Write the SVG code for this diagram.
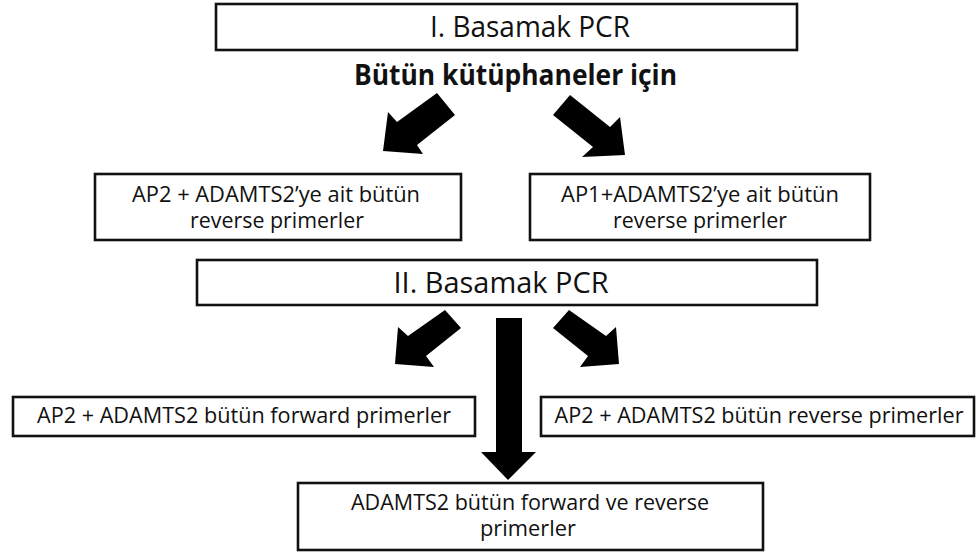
<svg xmlns="http://www.w3.org/2000/svg" width="978" height="554" viewBox="0 0 978 554">
  <style>
    .box { fill: #ffffff; stroke: #111111; stroke-width: 2.6; }
    .arrow { fill: #000000; stroke: none; }
    .t { font-family: "Open Sans", "Noto Sans", "DejaVu Sans", sans-serif; fill: #111111; }
    .title { font-size: 29px; }
    .sub { font-size: 29px; font-weight: bold; }
    .body { font-size: 22px; }
  </style>
  <rect width="978" height="554" fill="#ffffff"/>

  <!-- connectors: block arrows -->
  <g id="connectors">
    <polygon class="arrow" points="437,93 455,115 417,145 423,154 383,151 388,112 397,122"/>
    <polygon class="arrow" points="570,95 610,127 620,117 625,155 582,157 593,147 553,115"/>
    <polygon class="arrow" points="445,310 461,328 426,356 434,367 395,364 398,327 408,336"/>
    <polygon class="arrow" points="569,310 553,328 588,356 580,367 619,364 616,327 606,336"/>
    <polygon class="arrow" points="496,318 522,318 522,452 536,452 508,480 481,452 496,452"/>
  </g>

  <g id="step1">
    <rect class="box" x="216" y="4" width="581" height="46"/>
    <text class="t title" x="430" y="37" textLength="200" lengthAdjust="spacingAndGlyphs">I. Basamak PCR</text>
  </g>

  <g id="all-libraries">
    <text class="t sub" x="354" y="85" textLength="323" lengthAdjust="spacingAndGlyphs">Bütün kütüphaneler için</text>
  </g>

  <g id="ap2-reverse">
    <rect class="box" x="95" y="174" width="366" height="66"/>
    <text class="t body" x="276" y="202" text-anchor="middle" textLength="288" lengthAdjust="spacingAndGlyphs">AP2 + ADAMTS2’ye ait bütün</text>
    <text class="t body" x="277" y="228" text-anchor="middle" textLength="174" lengthAdjust="spacingAndGlyphs">reverse primerler</text>
  </g>

  <g id="ap1-reverse">
    <rect class="box" x="530" y="174" width="340" height="66"/>
    <text class="t body" x="700" y="202" text-anchor="middle" textLength="278" lengthAdjust="spacingAndGlyphs">AP1+ADAMTS2’ye ait bütün</text>
    <text class="t body" x="700" y="228" text-anchor="middle" textLength="174" lengthAdjust="spacingAndGlyphs">reverse primerler</text>
  </g>

  <g id="step2">
    <rect class="box" x="197" y="260" width="620" height="45"/>
    <text class="t title" x="501" y="293" text-anchor="middle" textLength="215" lengthAdjust="spacingAndGlyphs">II. Basamak PCR</text>
  </g>

  <g id="ap2-forward">
    <rect class="box" x="13" y="397" width="462" height="39"/>
    <text class="t body" x="244" y="423" text-anchor="middle" textLength="414" lengthAdjust="spacingAndGlyphs">AP2 + ADAMTS2 bütün forward primerler</text>
  </g>

  <g id="ap2-reverse-all">
    <rect class="box" x="541" y="397" width="433" height="39"/>
    <text class="t body" x="759" y="423" text-anchor="middle" textLength="409" lengthAdjust="spacingAndGlyphs">AP2 + ADAMTS2 bütün reverse primerler</text>
  </g>

  <g id="adamts2-all">
    <rect class="box" x="298" y="483" width="465" height="67"/>
    <text class="t body" x="530" y="510" text-anchor="middle" textLength="358" lengthAdjust="spacingAndGlyphs">ADAMTS2 bütün forward ve reverse</text>
    <text class="t body" x="528" y="536" text-anchor="middle" textLength="96" lengthAdjust="spacingAndGlyphs">primerler</text>
  </g>
</svg>
